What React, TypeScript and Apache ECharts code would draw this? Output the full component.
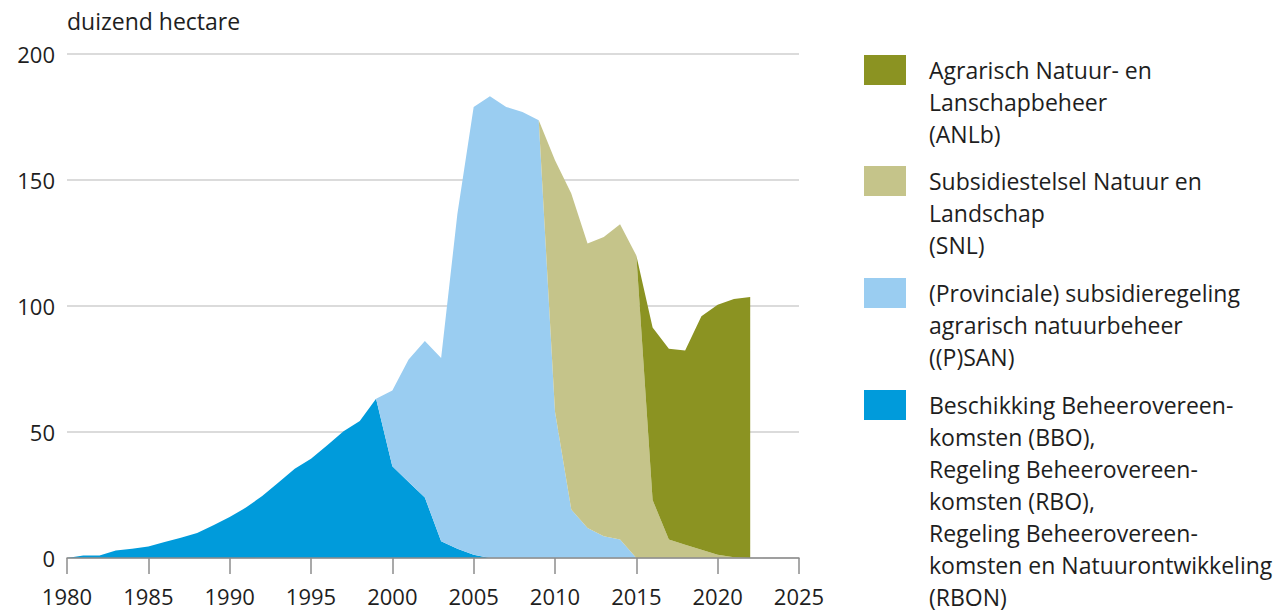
import React, { useEffect, useRef } from 'react';
import * as echarts from 'echarts';

const categories = [
  '1980','1981','1982','1983','1984','1985','1986','1987','1988','1989',
  '1990','1991','1992','1993','1994','1995','1996','1997','1998','1999',
  '2000','2001','2002','2003','2004','2005','2006','2007','2008','2009',
  '2010','2011','2012','2013','2014','2015','2016','2017','2018','2019',
  '2020','2021','2022','2023','2024','2025',
];

const N = null;

// Beschikking / Regeling Beheerovereenkomsten (BBO, RBO, RBON)
const bbo = [
  0, 1, 1, 3, 3.7, 4.6, 6.3, 8, 9.9, 13,
  16.3, 20, 24.6, 30, 35.4, 39.4, 44.7, 50.3, 54.4, 63.2,
  36.4, 30.2, 24, 6.6, 3.7, 1.3, 0, N, N, N,
  N, N, N, N, N, N, N, N, N, N,
  N, N, N,
];

// (Provinciale) subsidieregeling agrarisch natuurbeheer ((P)SAN)
const psan = [
  N, N, N, N, N, N, N, N, N, N,
  N, N, N, N, N, N, N, N, N, 0,
  30.1, 48.6, 62.1, 72.8, 132.9, 177.7, 183.2, 179, 177, 173.7,
  58, 19.2, 11.9, 8.6, 7.3, 0, N, N, N, N,
  N, N, N,
];

// Subsidiestelsel Natuur en Landschap (SNL)
const snl = [
  N, N, N, N, N, N, N, N, N, N,
  N, N, N, N, N, N, N, N, N, N,
  N, N, N, N, N, N, N, N, N, 0,
  99.8, 125.4, 112.9, 118.8, 125.1, 120, 23, 7.3, 5.3, 3.3,
  1.3, 0.3, 0,
];

// Agrarisch Natuur- en Lanschapbeheer (ANLb)
const anlb = [
  N, N, N, N, N, N, N, N, N, N,
  N, N, N, N, N, N, N, N, N, N,
  N, N, N, N, N, N, N, N, N, N,
  N, N, N, N, N, 0, 68.5, 75.7, 77, 92.6,
  99.2, 102.5, 103.6,
];

const yTicks = { min: 0, max: 200, interval: 50 };

const colors = {
  anlb: '#8b9322',
  snl: '#c5c48a',
  psan: '#9acdf1',
  bbo: '#009bdb',
};

const legendItems = [
  { color: colors.anlb, lines: ['Agrarisch Natuur- en', 'Lanschapbeheer', '(ANLb)'] },
  { color: colors.snl, lines: ['Subsidiestelsel Natuur en', 'Landschap', '(SNL)'] },
  { color: colors.psan, lines: ['(Provinciale) subsidieregeling', 'agrarisch natuurbeheer', '((P)SAN)'] },
  {
    color: colors.bbo,
    lines: [
      'Beschikking Beheerovereen-',
      'komsten (BBO),',
      'Regeling Beheerovereen-',
      'komsten (RBO),',
      'Regeling Beheerovereen-',
      'komsten en Natuurontwikkeling',
      '(RBON)',
    ],
  },
];

const FONT = '"Open Sans", "Noto Sans", sans-serif';
const TEXT = '#1e1e1e';

export default function App() {
  const ref = useRef<HTMLDivElement>(null);

  useEffect(() => {
    document.body.style.margin = '0';
    if (!ref.current) return;
    const chart = echarts.init(ref.current, undefined, { renderer: 'svg' });

    const legendTops = [55, 166, 278, 390];
    const graphics: any[] = [];
    legendItems.forEach((item, i) => {
      graphics.push({
        type: 'rect',
        left: 864,
        top: legendTops[i],
        shape: { width: 42, height: 30 },
        style: { fill: item.color },
      });
      graphics.push({
        type: 'text',
        left: 929,
        top: legendTops[i] - 1,
        style: {
          text: item.lines.join('\n'),
          font: `23px ${FONT}`,
          fill: TEXT,
          lineHeight: 32,
        },
      });
    });

    const mkSeries = (name: string, data: any[], color: string) => ({
      name,
      type: 'line',
      stack: 'total',
      data,
      showSymbol: false,
      symbol: 'none',
      lineStyle: { width: 0, opacity: 0 },
      areaStyle: { color, opacity: 1 },
      itemStyle: { color },
      emphasis: { disabled: true },
    });

    chart.setOption({
      animation: false,
      textStyle: { fontFamily: FONT },
      grid: { left: 67, right: 485, top: 54, bottom: 56, containLabel: false },
      xAxis: {
        type: 'category',
        data: categories,
        boundaryGap: false,
        axisLine: { lineStyle: { color: '#8c8c8c', width: 1.5 } },
        axisTick: { interval: 4, length: 16, lineStyle: { color: '#8c8c8c', width: 1.5 } },
        axisLabel: { interval: 4, fontSize: 22, color: TEXT, margin: 27, fontFamily: FONT },
        splitLine: { show: false },
        z: 10,
      },
      yAxis: {
        type: 'value',
        min: yTicks.min,
        max: yTicks.max,
        interval: yTicks.interval,
        name: 'duizend hectare',
        nameLocation: 'end',
        nameGap: 33,
        nameTextStyle: { align: 'left', verticalAlign: 'middle', fontSize: 23, color: TEXT, fontFamily: FONT },
        axisLine: { show: false },
        axisTick: { show: false },
        axisLabel: { fontSize: 22, color: TEXT, margin: 12, fontFamily: FONT },
        splitLine: { lineStyle: { color: '#cfcfcf', width: 1.5 } },
      },
      series: [
        mkSeries('BBO', bbo, colors.bbo),
        mkSeries('(P)SAN', psan, colors.psan),
        mkSeries('SNL', snl, colors.snl),
        mkSeries('ANLb', anlb, colors.anlb),
      ],
      graphic: graphics,
    });

    return () => chart.dispose();
  }, []);

  return <div ref={ref} style={{ width: 1284, height: 614 }} />;
}
